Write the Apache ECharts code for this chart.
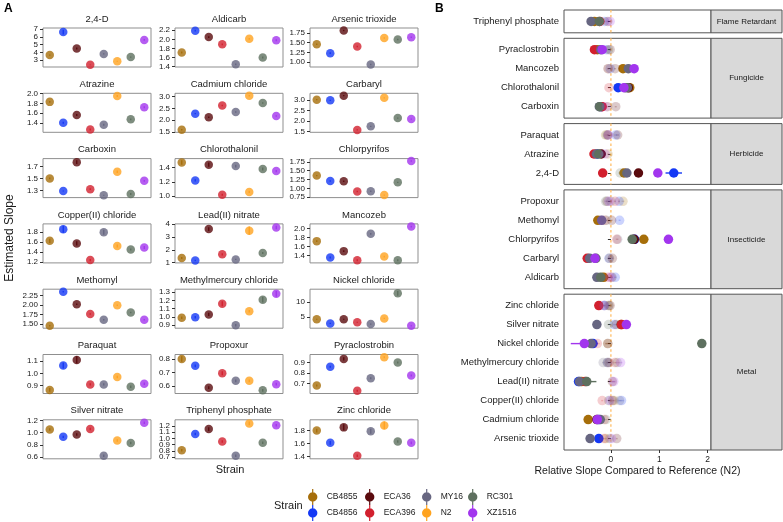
<!DOCTYPE html>
<html><head><meta charset="utf-8">
<script src="https://cdn.jsdelivr.net/npm/echarts@6/dist/echarts.min.js"></script>
<style>html,body{margin:0;padding:0;background:#fff}#c{width:783px;height:522px}</style>
</head><body><div id="c"></div>
<script>
// ---------------- DATA ----------------
const strains = ['CB4855','CB4856','ECA36','ECA396','MY16','N2','RC301','XZ1516'];
const strainColors = ['#A66E0A','#1438F5','#5A0B0E','#D2202E','#676681','#FFA31F','#5E705F','#A235EE'];

const toxicants = ['2,4-D','Aldicarb','Arsenic trioxide','Atrazine','Cadmium chloride','Carbaryl',
  'Carboxin','Chlorothalonil','Chlorpyrifos','Copper(II) chloride','Lead(II) nitrate','Mancozeb',
  'Methomyl','Methylmercury chloride','Nickel chloride','Paraquat','Propoxur','Pyraclostrobin',
  'Silver nitrate','Triphenyl phosphate','Zinc chloride'];

// Panel A: estimated slope per toxicant (rows) and strain (columns, same order as strains)
const estSlope = [
  [3.65, 6.6, 4.5, 2.4, 3.8, 2.85, 3.4, 5.6],
  [1.71, 2.19, 2.05, 1.89, 1.45, 2.01, 1.60, 1.98],
  [1.46, 1.23, 1.81, 1.40, 0.94, 1.62, 1.58, 1.64],
  [1.83, 1.40, 1.56, 1.26, 1.36, 1.95, 1.47, 1.72],
  [1.60, 2.28, 2.13, 2.62, 2.35, 3.03, 2.73, 2.18],
  [3.03, 3.00, 3.22, 1.58, 1.75, 3.12, 2.15, 2.10],
  [1.50, 1.29, 1.77, 1.32, 1.22, 1.61, 1.24, 1.46],
  [1.47, 1.22, 1.44, 1.02, 1.42, 1.06, 1.38, 1.35],
  [1.36, 1.21, 1.20, 0.91, 0.92, 0.81, 1.17, 1.77],
  [1.62, 1.85, 1.57, 1.24, 1.79, 1.52, 1.45, 1.49],
  [1.35, 1.16, 3.62, 1.64, 1.24, 3.50, 1.75, 3.75],
  [1.72, 1.36, 1.50, 1.30, 1.88, 1.38, 1.30, 2.04],
  [1.45, 2.35, 2.02, 1.76, 1.61, 1.99, 1.80, 1.61],
  [0.99, 0.995, 1.03, 1.16, 0.90, 1.07, 1.21, 1.28],
  [4.3, 2.9, 4.3, 3.3, 2.7, 4.6, 13.0, 2.1],
  [0.865, 1.065, 1.11, 0.91, 0.91, 0.97, 0.89, 0.915],
  [0.80, 0.75, 0.59, 0.695, 0.64, 0.64, 0.57, 0.615],
  [0.68, 0.86, 0.935, 0.63, 0.75, 0.95, 0.90, 0.775],
  [1.05, 0.93, 0.97, 1.06, 0.62, 0.87, 0.83, 1.16],
  [0.81, 1.07, 1.15, 0.95, 0.72, 1.24, 0.93, 1.21],
  [1.80, 1.61, 1.85, 1.41, 1.79, 1.88, 1.63, 1.61]
];
const estSlopeErr = [
  [0.08, 0.30, 0.12, 0.05, 0.08, 0.06, 0.08, 0.10],
  [0.02, 0.02, 0.02, 0.02, 0.02, 0.02, 0.02, 0.02],
  [0.02, 0.02, 0.02, 0.02, 0.02, 0.02, 0.02, 0.02],
  [0.02, 0.02, 0.02, 0.02, 0.02, 0.02, 0.02, 0.02],
  [0.03, 0.03, 0.03, 0.03, 0.03, 0.03, 0.03, 0.03],
  [0.03, 0.03, 0.03, 0.03, 0.03, 0.03, 0.03, 0.03],
  [0.015, 0.01, 0.03, 0.015, 0.01, 0.02, 0.015, 0.015],
  [0.03, 0.015, 0.03, 0.015, 0.02, 0.015, 0.02, 0.015],
  [0.02, 0.02, 0.02, 0.02, 0.02, 0.02, 0.02, 0.02],
  [0.04, 0.07, 0.04, 0.02, 0.05, 0.03, 0.02, 0.03],
  [0.08, 0.05, 0.15, 0.08, 0.05, 0.32, 0.08, 0.14],
  [0.02, 0.02, 0.02, 0.02, 0.02, 0.02, 0.02, 0.02],
  [0.02, 0.02, 0.02, 0.02, 0.02, 0.02, 0.02, 0.02],
  [0.015, 0.015, 0.02, 0.03, 0.015, 0.015, 0.035, 0.035],
  [0.2, 0.2, 0.2, 0.2, 0.2, 0.2, 0.8, 0.2],
  [0.015, 0.025, 0.03, 0.01, 0.01, 0.01, 0.01, 0.01],
  [0.02, 0.01, 0.01, 0.015, 0.01, 0.01, 0.01, 0.01],
  [0.01, 0.01, 0.015, 0.01, 0.01, 0.01, 0.01, 0.01],
  [0.02, 0.02, 0.02, 0.02, 0.02, 0.02, 0.02, 0.02],
  [0.02, 0.02, 0.03, 0.02, 0.02, 0.03, 0.02, 0.02],
  [0.03, 0.03, 0.05, 0.02, 0.04, 0.06, 0.02, 0.02]
];
const slopeTickLabels = [
  ['3','4','5','6','7'],
  ['1.4','1.6','1.8','2.0','2.2'],
  ['1.00','1.25','1.50','1.75'],
  ['1.2','1.4','1.6','1.8','2.0'],
  ['1.5','2.0','2.5','3.0'],
  ['1.5','2.0','2.5','3.0','3.5'],
  ['1.3','1.5','1.7'],
  ['1.0','1.2','1.4'],
  ['0.75','1.00','1.25','1.50','1.75'],
  ['1.2','1.4','1.6','1.8'],
  ['1','2','3','4'],
  ['1.4','1.6','1.8','2.0'],
  ['1.50','1.75','2.00','2.25'],
  ['0.9','1.0','1.1','1.2','1.3'],
  ['5','10'],
  ['0.9','1.0','1.1'],
  ['0.6','0.7','0.8'],
  ['0.6','0.7','0.8','0.9','1.0'],
  ['0.6','0.8','1.0','1.2'],
  ['0.7','0.8','0.9','1.0','1.1','1.2','1.3'],
  ['1.4','1.6','1.8','2.0']
];

// Panel B
const toxClasses = ['Flame Retardant','Fungicide','Herbicide','Insecticide','Metal'];
const classMembers = [
  ['Triphenyl phosphate'],
  ['Pyraclostrobin','Mancozeb','Chlorothalonil','Carboxin'],
  ['Paraquat','Atrazine','2,4-D'],
  ['Propoxur','Methomyl','Chlorpyrifos','Carbaryl','Aldicarb'],
  ['Zinc chloride','Silver nitrate','Nickel chloride','Methylmercury chloride','Lead(II) nitrate','Copper(II) chloride','Cadmium chloride','Arsenic trioxide']
];
// relative slope vs N2, rows follow `toxicants`, columns follow `strains` (N2 = reference, null)
const relSlope = [
  [0.27, 1.30, 0.57, -0.17, 0.33, null, 0.19, 0.97],
  [-0.15, 0.09, 0.02, -0.06, -0.29, null, -0.21, -0.015],
  [-0.105, -0.25, 0.12, -0.14, -0.43, null, -0.025, 0.012],
  [-0.06, -0.28, -0.20, -0.35, -0.30, null, -0.25, -0.12],
  [-0.47, -0.25, -0.29, -0.135, -0.22, null, -0.10, -0.28],
  [-0.03, -0.04, 0.03, -0.49, -0.44, null, -0.31, -0.33],
  [-0.068, -0.20, 0.10, -0.18, -0.24, null, -0.23, -0.093],
  [0.39, 0.15, 0.36, -0.04, 0.34, null, 0.30, 0.27],
  [0.68, 0.49, 0.48, 0.12, 0.14, null, 0.44, 1.19],
  [0.066, 0.22, 0.033, -0.18, 0.18, null, -0.046, -0.02],
  [-0.61, -0.67, 0.03, -0.53, -0.65, null, -0.50, 0.06],
  [0.25, -0.015, 0.087, -0.058, 0.36, null, -0.058, 0.48],
  [-0.27, 0.18, 0.015, -0.12, -0.19, null, -0.095, -0.19],
  [-0.075, -0.07, -0.04, 0.084, -0.16, null, 0.13, 0.20],
  [-0.065, -0.37, -0.065, -0.28, -0.41, null, 1.88, -0.55],
  [-0.11, 0.10, 0.14, -0.06, -0.06, null, -0.08, -0.057],
  [0.25, 0.17, -0.08, 0.086, 0.0, null, -0.11, -0.04],
  [-0.28, -0.095, -0.016, -0.34, -0.21, null, -0.05, -0.18],
  [0.21, 0.07, 0.11, 0.22, -0.29, null, -0.05, 0.32],
  [-0.34, -0.13, -0.065, -0.23, -0.41, null, -0.24, -0.016],
  [-0.04, -0.14, -0.016, -0.25, -0.05, null, -0.13, -0.14]
];
const relSlopeErr = [
  [0.04, 0.17, 0.05, 0.03, 0.04, 0, 0.04, 0.04],
  [0.02, 0.02, 0.02, 0.02, 0.02, 0, 0.02, 0.02],
  [0.02, 0.02, 0.02, 0.02, 0.02, 0, 0.02, 0.02],
  [0.02, 0.02, 0.02, 0.02, 0.02, 0, 0.02, 0.02],
  [0.02, 0.02, 0.02, 0.02, 0.02, 0, 0.02, 0.02],
  [0.02, 0.02, 0.02, 0.02, 0.02, 0, 0.02, 0.05],
  [0.02, 0.02, 0.02, 0.02, 0.02, 0, 0.02, 0.02],
  [0.03, 0.02, 0.03, 0.02, 0.02, 0, 0.02, 0.02],
  [0.02, 0.02, 0.02, 0.02, 0.02, 0, 0.02, 0.02],
  [0.03, 0.05, 0.03, 0.02, 0.04, 0, 0.02, 0.02],
  [0.03, 0.02, 0.05, 0.03, 0.02, 0, 0.2, 0.04],
  [0.02, 0.02, 0.02, 0.02, 0.02, 0, 0.02, 0.02],
  [0.02, 0.02, 0.02, 0.02, 0.02, 0, 0.02, 0.02],
  [0.02, 0.02, 0.02, 0.03, 0.02, 0, 0.04, 0.04],
  [0.05, 0.05, 0.05, 0.05, 0.05, 0, 0.06, 0.28],
  [0.02, 0.03, 0.03, 0.02, 0.02, 0, 0.02, 0.02],
  [0.03, 0.02, 0.02, 0.02, 0.02, 0, 0.02, 0.02],
  [0.02, 0.02, 0.02, 0.02, 0.02, 0, 0.02, 0.02],
  [0.02, 0.02, 0.02, 0.02, 0.02, 0, 0.02, 0.02],
  [0.02, 0.02, 0.03, 0.02, 0.02, 0, 0.02, 0.02],
  [0.02, 0.02, 0.03, 0.02, 0.02, 0, 0.02, 0.02]
];
const relSignificant = [
  [1,1,1,1,1,0,0,1],
  [1,0,0,0,1,0,1,0],
  [0,1,0,0,1,0,0,0],
  [0,1,1,1,1,0,1,0],
  [1,1,1,0,1,0,0,1],
  [0,0,0,1,1,0,1,1],
  [0,1,0,1,1,0,1,0],
  [1,1,1,0,1,0,1,1],
  [1,1,1,0,0,0,1,1],
  [0,0,0,0,0,0,0,0],
  [1,1,0,1,1,0,1,0],
  [1,0,0,0,1,0,0,1],
  [1,0,0,0,1,0,0,0],
  [0,0,0,0,0,0,0,0],
  [0,1,0,0,1,0,1,1],
  [0,0,0,0,0,0,0,0],
  [0,0,0,0,0,0,0,0],
  [1,0,0,1,1,0,0,1],
  [1,0,0,1,1,0,0,1],
  [1,0,0,1,1,0,1,0],
  [0,0,0,1,0,0,0,0]
];
const relTickLabels = ['0','1','2'];
const relRange = [-0.97, 2.07];
const referenceValue = 0;

// ---------------- BUILD ----------------
const FONT = '"Liberation Sans", Arial, Helvetica, sans-serif';
const TXT = '#1a1a1a';
const grids = [], xAxes = [], yAxes = [], series = [], graphics = [];

function errRender(horizontal) {
  return function (params, api) {
    let p1, p2;
    if (horizontal) {
      p1 = api.coord([api.value(0), api.value(2)]);
      p2 = api.coord([api.value(1), api.value(2)]);
    } else {
      p1 = api.coord([api.value(0), api.value(1)]);
      p2 = api.coord([api.value(0), api.value(2)]);
    }
    return { type: 'line', shape: { x1: p1[0], y1: p1[1], x2: p2[0], y2: p2[1] },
      style: { stroke: api.visual('color'), lineWidth: 1.4, opacity: api.value(3) } };
  };
}

function labelFor(ticks, labs) {
  return v => { let b = 0; ticks.forEach((tv, j) => { if (Math.abs(tv - v) < Math.abs(ticks[b] - v)) b = j; }); return labs[b]; };
}

// Panel A
const colLeft = [43, 175, 310], AW = 108, rowTop0 = 28, rowStep = 65.3, AH = 39;
toxicants.forEach((t, i) => {
  const r = Math.floor(i / 3), c = i % 3;
  const left = colLeft[c], top = rowTop0 + r * rowStep;
  const gi = grids.length;
  grids.push({ left, top, width: AW, height: AH, show: true, borderColor: '#8f8f8f', borderWidth: 1, backgroundColor: '#fff' });
  const vals = estSlope[i], errs = estSlopeErr[i];
  let lo = Infinity, hi = -Infinity;
  vals.forEach((v, k) => { lo = Math.min(lo, v - errs[k]); hi = Math.max(hi, v + errs[k]); });
  const pad = (hi - lo) * 0.05;
  const labs = slopeTickLabels[i], ticks = labs.map(Number);
  const evenT = ticks.filter((v, j) => j % 2 === 0), oddT = ticks.filter((v, j) => j % 2 === 1);
  const xi = xAxes.length;
  xAxes.push({ gridIndex: gi, type: 'category', data: strains, show: false });
  const yi = yAxes.length;
  const labelBase = { interval: 0, hideOverlap: false, showMinLabel: true, showMaxLabel: true,
    fontSize: 8, color: TXT, fontFamily: FONT, margin: 5, formatter: labelFor(ticks, labs) };
  yAxes.push({ gridIndex: gi, type: 'value', position: 'left', min: lo - pad, max: hi + pad,
    splitLine: { show: false }, axisLine: { show: false },
    axisTick: { show: true, length: 3, customValues: ticks, lineStyle: { color: '#333', width: 1 } },
    axisLabel: Object.assign({ customValues: evenT }, labelBase) });
  yAxes.push({ gridIndex: gi, type: 'value', position: 'left', offset: 0, min: lo - pad, max: hi + pad,
    splitLine: { show: false }, axisLine: { show: false }, axisTick: { show: false },
    axisLabel: Object.assign({ customValues: oddT, show: oddT.length > 0 }, labelBase) });
  strains.forEach((s, k) => {
    series.push({ type: 'custom', name: s, xAxisIndex: xi, yAxisIndex: yi, color: strainColors[k],
      renderItem: errRender(false), data: [[k, vals[k] - errs[k], vals[k] + errs[k], 1]], z: 2, silent: true });
    series.push({ type: 'scatter', name: s, xAxisIndex: xi, yAxisIndex: yi, color: strainColors[k],
      symbolSize: 8.5, data: [[k, vals[k]]], z: 3 });
  });
  graphics.push({ type: 'text', x: left + AW / 2, y: top - 9,
    style: { text: t, font: '9.5px ' + FONT, fill: TXT, textAlign: 'center', textVerticalAlign: 'middle' } });
});

// Panel B
const bLeft = 564, bW = 147, stripW = 71, unit = 19, gap = 5.5;
let bTop = 10;
const relTicks = relTickLabels.map(Number);
toxClasses.forEach((cls, g) => {
  const members = classMembers[g], n = members.length, h = (n + 0.2) * unit;
  const gi = grids.length;
  const last = g === toxClasses.length - 1;
  const yMin = 0.4, yMax = n + 0.6;
  grids.push({ left: bLeft, top: bTop, width: bW, height: h, show: true, borderColor: '#555', borderWidth: 1, backgroundColor: '#fff' });
  const xi = xAxes.length;
  xAxes.push({ gridIndex: gi, type: 'value', min: relRange[0], max: relRange[1], splitLine: { show: false },
    axisLine: { show: false },
    axisTick: { show: last, length: 3, customValues: relTicks, lineStyle: { color: '#333' } },
    axisLabel: { show: last, customValues: relTicks, interval: 0, hideOverlap: false, showMinLabel: true, showMaxLabel: true,
      fontSize: 8.5, color: TXT, fontFamily: FONT, margin: 5,
      formatter: v => relTickLabels[relTicks.indexOf(Math.round(v))] } });
  const idx = members.map((m, j) => j + 1);
  const yi = yAxes.length;
  yAxes.push({ gridIndex: gi, type: 'value', inverse: true, min: yMin, max: yMax, splitLine: { show: false },
    axisLine: { show: false },
    axisTick: { show: true, length: 3, customValues: idx, lineStyle: { color: '#333' } },
    axisLabel: { customValues: idx, interval: 0, hideOverlap: false, showMinLabel: true, showMaxLabel: true,
      fontSize: 9.5, color: TXT, fontFamily: FONT, margin: 5,
      formatter: v => members[Math.round(v) - 1] } });
  // reference line (N2 = 0)
  series.push({ type: 'line', xAxisIndex: xi, yAxisIndex: yi, silent: true, symbol: 'none', z: 1,
    data: [[referenceValue, yMin], [referenceValue, yMax]],
    lineStyle: { color: '#FFBE66', type: [2.5, 2.5], width: 1.3 } });
  strains.forEach((s, k) => {
    if (s === 'N2') return;
    const pts = [], errs = [];
    members.forEach((m, j) => {
      const ti = toxicants.indexOf(m);
      const v = relSlope[ti][k];
      const sig = relSignificant[ti][k];
      const op = sig ? 1 : 0.22;
      pts.push({ value: [v, j + 1], itemStyle: { opacity: op } });
      errs.push([v - relSlopeErr[ti][k], v + relSlopeErr[ti][k], j + 1, op]);
    });
    series.push({ type: 'custom', name: s, xAxisIndex: xi, yAxisIndex: yi, color: strainColors[k],
      renderItem: errRender(true), data: errs, z: 2, silent: true });
    series.push({ type: 'scatter', name: s, xAxisIndex: xi, yAxisIndex: yi, color: strainColors[k],
      symbolSize: 9.5, data: pts, z: 3 });
  });
  graphics.push({ type: 'rect', shape: { x: bLeft + bW, y: bTop, width: stripW, height: h },
    style: { fill: '#d9d9d9', stroke: '#555', lineWidth: 1 }, z: 10 });
  graphics.push({ type: 'text', x: bLeft + bW + stripW / 2, y: bTop + h / 2, z: 11,
    style: { text: cls, font: '8px ' + FONT, fill: TXT, textAlign: 'center', textVerticalAlign: 'middle' } });
  bTop += h + gap;
});

// Titles / labels
graphics.push({ type: 'text', x: 4, y: 3, style: { text: 'A', font: 'bold 12px ' + FONT, fill: '#000' } });
graphics.push({ type: 'text', x: 435, y: 3, style: { text: 'B', font: 'bold 12px ' + FONT, fill: '#000' } });
graphics.push({ type: 'text', x: 10, y: 238, rotation: Math.PI / 2,
  style: { text: 'Estimated Slope', font: '12px ' + FONT, fill: TXT, textAlign: 'center', textVerticalAlign: 'middle' } });
graphics.push({ type: 'text', x: 230, y: 470,
  style: { text: 'Strain', font: '11px ' + FONT, fill: TXT, textAlign: 'center', textVerticalAlign: 'middle' } });
graphics.push({ type: 'text', x: bLeft + bW / 2, y: 471,
  style: { text: 'Relative Slope Compared to Reference (N2)', font: '10.5px ' + FONT, fill: TXT, textAlign: 'center', textVerticalAlign: 'middle' } });
graphics.push({ type: 'text', x: 274, y: 506,
  style: { text: 'Strain', font: '11px ' + FONT, fill: TXT, textAlign: 'left', textVerticalAlign: 'middle' } });

// Legend: 4 columns of 2
const legendIcon = 'path://M4.4,0 L5.6,0 L5.6,16 L4.4,16 Z M5,3.3 A4.7,4.7 0 1,1 4.99,3.3 Z';
const legendCols = [313, 370, 427, 473];
const legends = legendCols.map((cx, c) => ({
  orient: 'vertical', left: cx - 5, top: 489, padding: 0, itemGap: 0, itemWidth: 10, itemHeight: 16,
  icon: legendIcon, selectedMode: false,
  textStyle: { fontSize: 8.5, color: TXT, fontFamily: FONT, padding: [0, 0, 0, 4] },
  data: [strains[c * 2], strains[c * 2 + 1]]
}));

const chart = echarts.init(document.getElementById('c'), null, { renderer: 'canvas' });
chart.setOption({
  backgroundColor: '#fff', animation: false,
  grid: grids, xAxis: xAxes, yAxis: yAxes, series, legend: legends, graphic: graphics
});
</script></body></html>
